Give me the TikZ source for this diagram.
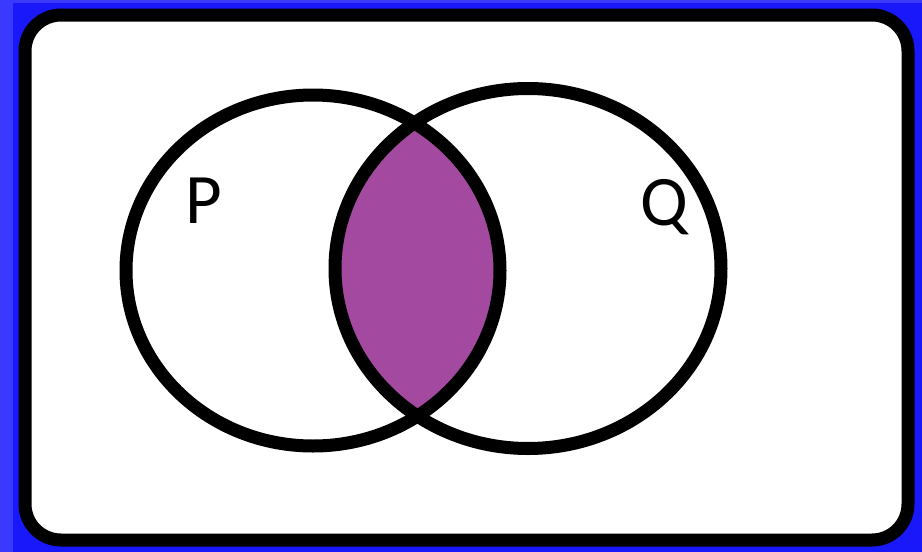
\documentclass[tikz,border=0pt]{standalone}
\usepackage{fontspec}
\setmainfont{Carlito}
\definecolor{bgblue}{RGB}{24,24,250}
\definecolor{edgeblue}{RGB}{58,58,255}
\definecolor{lens}{RGB}{163,74,160}
\tikzset{
  outline/.style={draw=black, line width=13pt},
  setlabel/.style={font=\fontsize{71}{80}\selectfont, inner sep=0pt, anchor=base}
}
\begin{document}
\begin{tikzpicture}[x=1pt,y=-1pt]
\useasboundingbox (0,0) rectangle (922,552);
\fill[bgblue] (0,0) rectangle (922,552);
\fill[edgeblue] (0,0) rectangle (13,552);
\fill[edgeblue] (0,0) rectangle (922,3);
\draw[outline, fill=white, rounded corners=36pt] (25,15) rectangle (908,540);
\begin{scope}
  \clip (313,270.5) ellipse [x radius=187, y radius=175.5];
  \fill[lens] (528,268.5) ellipse [x radius=193, y radius=180];
\end{scope}
\draw[outline] (313,270.5) ellipse [x radius=187, y radius=175.5];
\draw[outline] (528,268.5) ellipse [x radius=193, y radius=180];
\node[setlabel] (P) at (204,223) {P};
\node[setlabel] (Q) at (664,225) {Q};
\end{tikzpicture}
\end{document}
